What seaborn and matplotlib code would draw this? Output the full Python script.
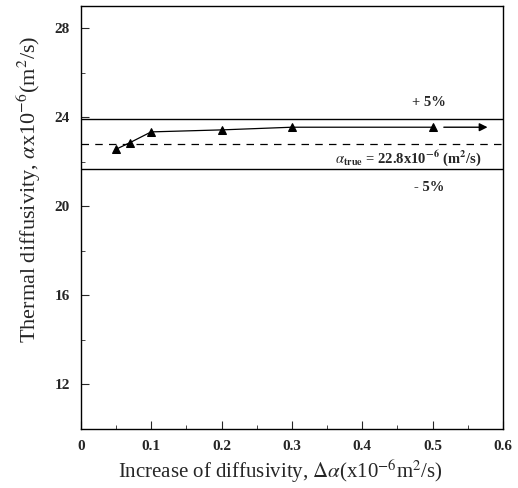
import numpy as np
import pandas as pd
import matplotlib
matplotlib.use("Agg")
import matplotlib.pyplot as plt
import seaborn as sns
from matplotlib.ticker import MultipleLocator

# measured points
increase = [0.05, 0.07, 0.10, 0.20, 0.30, 0.50]
diffusivity = [22.56, 22.86, 23.34, 23.43, 23.55, 23.55]
alpha_true = 22.8
upper = alpha_true * 1.05
lower = alpha_true * 0.95

df = pd.DataFrame({"increase": increase, "diffusivity": diffusivity})

sns.set_style("ticks")
plt.rcParams["font.family"] = ["Liberation Serif", "DejaVu Serif"]
plt.rcParams["mathtext.fontset"] = "stix"

fig = plt.figure(figsize=(5.18, 4.88), dpi=100)
ax = fig.add_axes([0.156, 0.121, 0.815, 0.867])

sns.lineplot(data=df, x="increase", y="diffusivity", ax=ax, color="black",
             marker="^", markersize=6, linewidth=0.9, markeredgecolor="black")

ax.axhline(upper, color="black", lw=1.0)
ax.axhline(lower, color="black", lw=1.0)
ax.axhline(alpha_true, color="black", lw=0.9, ls=(0, (6, 5)))

ax.annotate("", xy=(0.582, 23.55), xytext=(0.512, 23.55),
            arrowprops=dict(arrowstyle="-|>", color="black", lw=1.0,
                            mutation_scale=12))

ax.text(0.495, 24.5, "+ 5%", fontsize=10.5, fontweight="bold", ha="center")
ax.text(0.495, 20.7, "- 5%", fontsize=10.5, fontweight="bold", ha="center")
ax.text(0.465, 21.95, r"$\alpha_{\mathbf{true}}$ = 22.8x10$^{\mathbf{-6}}$ (m$^{\mathbf{2}}$/s)",
        fontsize=10.5, fontweight="bold", ha="center")

ax.set_xlim(0, 0.6)
ax.set_ylim(10, 29)
ax.xaxis.set_minor_locator(MultipleLocator(0.05))
ax.yaxis.set_minor_locator(MultipleLocator(2))
ax.set_yticks([12, 16, 20, 24, 28])
ax.set_xticks([0, 0.1, 0.2, 0.3, 0.4, 0.5, 0.6])
ax.set_xticklabels(["0", "0.1", "0.2", "0.3", "0.4", "0.5", "0.6"])
ax.tick_params(which="both", direction="in", top=False, right=False)
ax.tick_params(which="major", length=6, labelsize=11, pad=8)
ax.tick_params(which="minor", length=3)
for lab in ax.get_xticklabels() + ax.get_yticklabels():
    lab.set_fontweight("bold")
for s in ax.spines.values():
    s.set_linewidth(1.0)
    s.set_color("black")

ax.set_xlabel(r"Increase of diffusivity, $\Delta\alpha$(x10$^{-6}$m$^{2}$/s)", fontsize=15, labelpad=3)
ax.xaxis.label.set_x(0.474)
ax.set_ylabel(r"Thermal diffusivity, $\alpha$x10$^{-6}$(m$^{2}$/s)", fontsize=16, labelpad=8)
ax.yaxis.label.set_y(0.567)

fig.savefig("out.png", dpi=100)
